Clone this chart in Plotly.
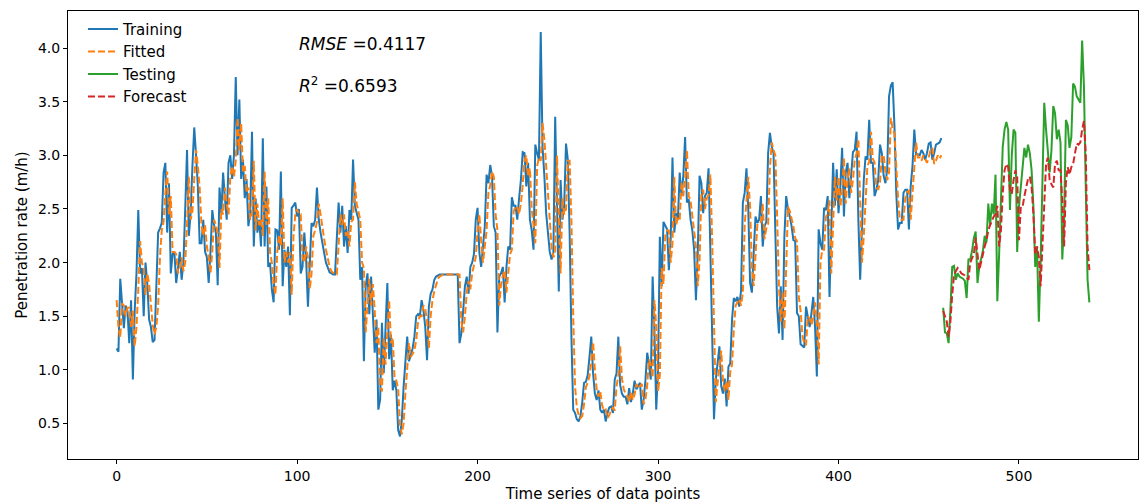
import plotly.graph_objects as go

# ---- data ----
training = [
1.20,1.17,1.85,1.60,1.39,1.60,1.55,1.25,1.65,0.91,
1.55,1.90,2.49,1.90,1.95,1.50,2.00,1.80,1.47,1.40,
1.26,1.28,1.70,2.28,2.32,2.37,2.84,2.93,2.28,2.74,
1.90,2.08,2.10,1.81,1.95,2.10,1.84,2.00,2.50,3.05,
2.25,2.46,2.90,3.26,3.00,2.71,2.18,2.18,2.40,2.10,
2.05,1.81,2.10,2.49,2.35,2.28,1.79,2.70,2.46,2.84,
2.60,2.40,2.93,3.00,2.78,3.00,3.73,3.00,3.52,2.78,
2.96,2.60,2.78,2.34,2.46,3.22,2.15,2.60,2.28,2.40,
2.15,3.16,2.15,2.71,1.96,2.00,1.75,1.63,2.31,2.30,
2.12,2.85,1.78,2.12,1.96,2.15,1.51,2.51,2.53,2.56,
2.43,2.50,1.90,1.96,2.28,2.03,1.59,1.96,2.37,2.34,
2.40,2.70,2.40,2.28,2.20,2.09,2.00,1.95,1.91,1.90,
1.89,1.89,2.30,2.56,2.28,2.53,2.15,2.34,2.09,2.49,
2.40,2.96,2.53,2.46,2.40,1.84,1.96,1.08,1.78,1.90,
1.52,1.87,1.50,1.16,1.47,0.63,0.72,1.44,0.97,1.40,
1.81,1.10,1.33,0.81,0.90,0.81,0.44,0.38,0.53,0.84,
1.10,1.31,1.08,1.15,1.20,1.31,1.50,1.52,1.50,1.65,
1.56,1.40,1.09,1.59,1.71,1.75,1.84,1.87,1.88,1.89,
1.89,1.89,1.89,1.89,1.89,1.89,1.89,1.89,1.89,1.89,
1.25,1.34,1.55,1.78,1.87,1.71,1.96,2.00,2.08,2.40,
2.51,2.09,1.96,2.20,2.34,2.82,2.74,2.91,2.81,2.34,
2.28,1.35,1.87,1.90,1.96,1.63,1.96,2.15,2.12,2.61,
2.53,2.53,2.40,2.60,2.77,3.03,3.02,2.71,2.93,2.40,
2.30,2.12,3.10,3.02,2.96,4.15,3.08,2.81,2.46,2.28,
2.10,2.03,2.09,3.36,2.34,1.73,2.77,2.40,2.53,3.11,
2.96,2.28,1.31,0.63,0.60,0.54,0.52,0.57,0.70,0.88,
0.89,0.95,1.12,1.31,0.97,0.78,0.72,0.81,0.63,0.60,
0.63,0.52,0.60,0.65,0.66,0.60,0.91,0.97,1.31,0.86,
0.78,0.75,0.75,0.68,0.83,0.70,0.78,0.90,0.82,0.85,
0.88,0.63,0.72,0.90,1.16,1.05,0.91,1.87,1.37,0.63,
1.00,2.24,1.78,2.38,2.34,2.31,1.93,2.21,2.98,2.28,
2.46,2.40,2.84,2.62,2.81,3.17,2.56,2.59,2.40,2.30,
2.12,1.65,2.09,2.81,2.74,2.46,2.62,2.65,2.88,2.09,
1.16,0.54,0.91,1.06,1.22,0.85,0.78,0.92,0.66,1.03,
1.06,1.47,1.67,1.64,1.68,1.59,1.74,2.56,2.65,2.88,
2.50,1.81,1.72,2.09,2.43,2.37,2.40,2.62,2.15,2.34,
2.38,3.02,3.21,3.08,3.02,2.28,1.59,1.34,1.78,1.28,
2.24,2.62,2.50,2.43,2.34,2.21,2.20,1.53,1.50,1.24,
1.22,1.21,1.59,1.50,1.40,1.53,1.68,1.40,0.94,2.31,
2.18,2.12,2.51,2.49,2.62,1.68,2.46,2.93,2.53,2.87,
2.46,2.71,3.07,2.43,2.84,2.93,2.60,2.81,3.03,3.05,
3.22,2.40,1.84,2.34,2.77,2.99,2.96,3.33,2.93,2.93,
2.62,2.68,2.77,3.10,3.02,2.81,2.74,2.87,3.55,3.65,
3.68,3.27,2.65,2.31,2.37,2.37,2.65,2.68,2.68,2.31,
2.71,2.90,3.24,3.01,3.01,3.00,3.05,3.02,2.96,3.02,
3.11,3.12,2.96,3.02,3.10,3.11,3.12,3.16]

fitted = [
1.65,1.40,1.30,1.62,1.60,1.50,1.58,1.58,1.40,1.55,
1.22,1.40,1.75,2.20,2.00,1.95,1.70,1.90,1.80,1.60,
1.42,1.33,1.40,1.60,2.05,2.30,2.38,2.65,2.85,2.45,
2.62,2.10,2.10,2.08,1.90,1.95,2.05,1.92,2.00,2.35,
2.80,2.40,2.48,2.78,3.05,2.90,2.70,2.35,2.25,2.35,
2.15,2.05,1.90,2.10,2.40,2.35,2.28,1.95,2.50,2.45,
2.70,2.55,2.45,2.80,2.90,2.80,2.95,3.35,3.05,3.30,
2.85,2.90,2.65,2.70,2.40,2.45,2.95,2.30,2.55,2.35,
2.40,2.25,2.85,2.35,2.60,2.10,2.00,1.80,1.70,2.10,
2.25,2.15,2.60,2.00,2.10,2.00,2.10,1.70,2.25,2.45,
2.50,2.45,2.45,2.05,2.00,2.15,2.05,1.75,1.90,2.25,
2.30,2.38,2.55,2.45,2.32,2.22,2.12,2.03,1.96,1.92,
1.90,1.89,1.89,2.15,2.45,2.35,2.45,2.25,2.30,2.15,
2.38,2.40,2.75,2.55,2.47,2.40,2.00,1.95,1.35,1.65,
1.85,1.60,1.80,1.55,1.25,1.40,0.85,0.80,1.30,1.05,
1.35,1.65,1.25,1.30,0.92,0.90,0.82,0.50,0.40,0.50,
0.78,1.02,1.25,1.12,1.15,1.18,1.28,1.45,1.50,1.50,
1.60,1.57,1.45,1.20,1.50,1.65,1.73,1.80,1.85,1.87,
1.88,1.89,1.89,1.89,1.89,1.89,1.89,1.89,1.89,1.89,
1.89,1.45,1.35,1.50,1.72,1.83,1.75,1.90,1.98,2.05,
2.30,2.45,2.20,2.00,2.15,2.30,2.65,2.72,2.85,2.80,
2.45,2.30,1.60,1.80,1.88,1.93,1.72,1.90,2.08,2.12,
2.48,2.52,2.52,2.45,2.55,2.72,2.95,3.00,2.80,2.88,
2.50,2.35,2.18,2.90,2.98,2.95,3.30,3.15,2.90,2.55,
2.35,2.15,2.05,2.08,3.00,2.45,1.90,2.60,2.45,2.50,
2.95,2.95,2.40,1.50,0.85,0.65,0.58,0.55,0.57,0.68,
0.84,0.88,0.94,1.08,1.26,1.00,0.82,0.75,0.80,0.67,
0.62,0.63,0.55,0.58,0.63,0.65,0.62,0.85,0.95,1.22,
0.92,0.82,0.78,0.76,0.70,0.80,0.72,0.77,0.87,0.83,
0.85,0.87,0.68,0.72,0.86,1.10,1.05,0.93,1.65,1.40,
0.80,0.95,1.95,1.80,2.25,2.30,2.30,2.00,2.18,2.80,
2.35,2.42,2.40,2.75,2.62,2.78,3.05,2.62,2.58,2.45,
2.33,2.15,1.78,2.02,2.65,2.68,2.50,2.60,2.63,2.82,
2.20,1.35,0.70,0.88,1.02,1.18,0.90,0.80,0.90,0.72,
0.98,1.05,1.38,1.60,1.63,1.66,1.60,1.72,2.35,2.55,
2.80,2.52,1.95,1.78,2.02,2.35,2.35,2.38,2.55,2.22,
2.32,2.36,2.88,3.12,3.05,3.00,2.42,1.78,1.45,1.72,
1.38,2.10,2.52,2.48,2.42,2.34,2.23,2.20,1.68,1.55,
1.32,1.25,1.23,1.50,1.48,1.42,1.50,1.63,1.45,1.05,
2.00,2.12,2.12,2.42,2.47,2.58,1.90,2.35,2.80,2.58,
2.80,2.52,2.66,2.98,2.55,2.78,2.88,2.65,2.77,2.96,
3.02,3.15,2.55,2.00,2.25,2.65,2.90,2.94,3.22,2.97,
2.93,2.70,2.68,2.75,3.00,3.00,2.85,2.77,2.84,3.35,
3.25,3.20,2.85,2.60,2.40,2.40,2.40,2.60,2.66,2.67,
2.40,2.65,2.85,3.12,2.98,2.98,2.95,3.00,2.97,2.93,
2.98,3.05,3.07,2.92,2.95,3.00,2.97,3.00]

testing = [
1.58,1.35,1.34,1.25,1.56,1.96,1.97,1.84,1.90,1.87,
1.86,1.85,1.83,1.67,2.03,2.03,2.11,2.23,2.29,1.81,
1.96,2.05,2.11,2.25,2.19,2.55,2.35,2.55,2.45,2.82,
1.64,2.08,2.70,3.08,3.24,3.31,3.24,2.49,3.00,3.24,
3.21,2.10,2.52,2.71,2.86,3.07,2.98,3.10,3.02,2.86,
2.52,1.96,2.15,1.45,2.02,2.64,3.49,3.24,3.00,2.84,
3.05,3.46,3.39,3.15,3.24,3.12,2.03,2.40,3.33,3.28,
3.07,3.17,3.67,3.64,3.55,3.52,3.49,4.07,3.64,2.71,
1.84,1.63]

forecast = [
1.55,1.50,1.45,1.31,1.45,1.70,1.88,1.92,1.95,1.93,
1.90,1.89,1.88,1.86,1.84,2.00,2.05,2.08,2.23,2.10,
1.93,2.00,2.09,2.15,2.21,2.30,2.35,2.40,2.43,2.45,
2.53,2.15,2.30,2.65,2.86,2.92,2.89,2.68,2.64,2.77,
2.86,2.80,2.21,2.52,2.52,2.62,2.70,2.78,2.80,2.70,
2.45,2.08,2.15,2.05,1.78,2.20,2.65,2.92,2.98,2.77,
2.73,2.70,2.92,2.95,2.86,2.86,2.58,2.15,2.75,2.89,
2.82,2.89,2.92,3.02,3.11,3.10,3.12,3.24,3.32,3.02,
2.15,1.93]

train_x = list(range(len(training)))
test_x = list(range(len(training), len(training) + len(testing)))

x_ticks = [0, 100, 200, 300, 400, 500]
y_ticks = [0.5, 1.0, 1.5, 2.0, 2.5, 3.0, 3.5, 4.0]

BLUE, ORANGE, GREEN, RED = "#1f77b4", "#ff7f0e", "#2ca02c", "#d62728"

fig = go.Figure()
fig.add_trace(go.Scatter(x=train_x, y=training, mode="lines", name="Training",
                         line=dict(color=BLUE, width=2)))
fig.add_trace(go.Scatter(x=train_x, y=fitted, mode="lines", name="Fitted",
                         line=dict(color=ORANGE, width=2, dash="7px,3px")))
fig.add_trace(go.Scatter(x=test_x, y=testing, mode="lines", name="Testing",
                         line=dict(color=GREEN, width=2)))
fig.add_trace(go.Scatter(x=test_x, y=forecast, mode="lines", name="Forecast",
                         line=dict(color=RED, width=2, dash="7px,3px")))

font = "DejaVu Sans, Arial, sans-serif"
fig.update_layout(
    width=1140, height=504,
    margin=dict(l=68, r=2, t=11, b=45),
    paper_bgcolor="white", plot_bgcolor="white",
    font=dict(family=font, size=14, color="#000"),
    showlegend=True,
    legend=dict(x=0.014, y=0.996, xanchor="left", yanchor="top",
                bgcolor="rgba(255,255,255,0)", font=dict(size=15),
                tracegroupgap=0, itemwidth=30),
    annotations=[
        dict(x=100, y=4.04, xref="x", yref="y", xanchor="left", yanchor="middle",
             text="<i>RMSE</i> =0.4117", showarrow=False, font=dict(size=17)),
        dict(x=100, y=3.66, xref="x", yref="y", xanchor="left", yanchor="middle",
             text="<i>R</i><sup>2</sup> =0.6593", showarrow=False, font=dict(size=17)),
    ],
)
fig.update_xaxes(range=[-26.95, 565.95], tickvals=x_ticks, ticktext=[str(v) for v in x_ticks],
                 showgrid=False, zeroline=False, showline=True, linecolor="#000", linewidth=1,
                 mirror=True, ticks="outside", ticklen=4, tickcolor="#000",
                 title=dict(text="Time series of data points", standoff=5, font=dict(size=15)))
fig.update_yaxes(range=[0.17, 4.345], tickvals=y_ticks, ticktext=[f"{v:.1f}" for v in y_ticks],
                 showgrid=False, zeroline=False, showline=True, linecolor="#000", linewidth=1,
                 mirror=True, ticks="outside", ticklen=4, tickcolor="#000",
                 title=dict(text="Penetration rate (m/h)", standoff=6, font=dict(size=15)))

fig.write_html("out.html")
